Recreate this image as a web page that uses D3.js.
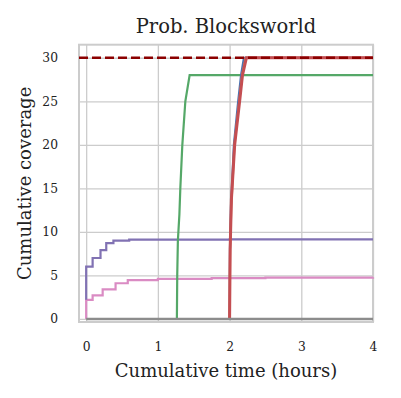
<!DOCTYPE html>
<meta charset="utf-8">
<style>
    body { margin: 0; background: #fff; }
    text { font-family: "DejaVu Serif", serif; fill: #222; }
    .grid line { stroke: #cccccc; stroke-width: 1.3px; }
    .grid path { display: none; }
    .grid .tick text { font-size: 12.3px; font-family: "DejaVu Serif", serif; }
</style>
<body>
<script src="https://cdn.jsdelivr.net/npm/d3@7"></script>
<script>

// values (hours, cumulative coverage)
var totalProblems = 30;

var grayX = [0, 4];
var grayY = [0, 0];

var pinkX = [0, 0, 0.09, 0.23, 0.41, 0.58, 1.0, 1.75, 2.5, 4];
var pinkY = [0, 2.2, 2.7, 3.4, 4.1, 4.45, 4.6, 4.7, 4.75, 4.8];

var purpleX = [0, 0, 0.09, 0.2, 0.28, 0.38, 0.6, 2.0, 4];
var purpleY = [2.2, 6.0, 7.0, 7.9, 8.7, 9.0, 9.1, 9.15, 9.15];

var greenX = [1.265, 1.27, 1.279, 1.3, 1.313, 1.341, 1.383, 1.443, 4];
var greenY = [0, 5, 9, 12, 15, 20, 25, 28, 28];

var blueX = [2.0, 2.005, 2.02, 2.06, 2.12, 2.16, 2.2, 4];
var blueY = [0, 8, 13, 20, 25, 28, 30, 30];

var orangeX = [2.0, 2.007, 2.024, 2.068, 2.135, 2.175, 2.225, 4];
var orangeY = [0, 8, 13, 20, 25, 28, 30, 30];

var redX = [2.0, 2.008, 2.025, 2.071, 2.14, 2.18, 2.235, 4];
var redY = [0, 8, 13.7, 20, 25, 28, 30, 30];

var xTicks = [0, 1, 2, 3, 4];
var yTicks = [0, 5, 10, 15, 20, 25, 30];

var W = 401, H = 398;
var plotL = 79, plotR = 373, plotT = 44.7, plotB = 322;

var svg = d3.select("body").append("svg")
    .attr("width", W)
    .attr("height", H);

var x = d3.scaleLinear().domain([-0.1, 4]).range([plotL, plotR]);
var y = d3.scaleLinear().domain([-0.35, 31.5]).range([plotB, plotT]);

// grid + tick labels
svg.append("g")
    .attr("class", "grid")
    .attr("transform", "translate(0," + plotB + ")")
    .call(d3.axisBottom(x).tickValues(xTicks).tickFormat(d3.format("d"))
        .tickSizeInner(-(plotB - plotT)).tickSizeOuter(0).tickPadding(20));

svg.append("g")
    .attr("class", "grid")
    .attr("transform", "translate(" + plotL + ",0)")
    .call(d3.axisLeft(y).tickValues(yTicks).tickFormat(d3.format("d"))
        .tickSizeInner(-(plotR - plotL)).tickSizeOuter(0).tickPadding(21));

svg.selectAll(".grid .tick text").attr("fill", "#222");

// frame
svg.append("rect")
    .attr("x", plotL)
    .attr("y", plotT)
    .attr("width", plotR - plotL)
    .attr("height", plotB - plotT)
    .attr("fill", "none")
    .attr("stroke", "#cccccc")
    .attr("stroke-width", 2);

function series(xs, ys, color, width, curve) {
    var pts = xs.map(function(d, i) { return [d, ys[i]]; });
    var line = d3.line()
        .x(function(d) { return x(d[0]); })
        .y(function(d) { return y(d[1]); })
        .curve(curve || d3.curveLinear);
    svg.append("path")
        .datum(pts)
        .attr("d", line)
        .attr("fill", "none")
        .attr("stroke", color)
        .attr("stroke-width", width)
        .attr("stroke-linejoin", "miter");
}

series(pinkX, pinkY, "#DA8BC3", 2.2, d3.curveStepAfter);
series(purpleX, purpleY, "#8172B3", 2.2, d3.curveStepAfter);
series(greenX, greenY, "#55A868", 2.2);
series(blueX, blueY, "#4C72B0", 2.2);
series(orangeX, orangeY, "#DD8452", 2.2);
series(redX, redY, "#C44E52", 3);
series(grayX, grayY, "#8C8C8C", 2.6);

// total problems reference line
svg.append("line")
    .attr("x1", x(-0.1))
    .attr("x2", x(4))
    .attr("y1", y(totalProblems))
    .attr("y2", y(totalProblems))
    .attr("stroke", "#8B0000")
    .attr("stroke-width", 2.4)
    .attr("stroke-dasharray", "9,4");

// texts
svg.append("text")
    .attr("x", (plotL + plotR) / 2)
    .attr("y", 32.5)
    .attr("text-anchor", "middle")
    .style("font-size", "19.5px")
    .text("Prob.  Blocksworld");

svg.append("text")
    .attr("x", (plotL + plotR) / 2)
    .attr("y", 376.5)
    .attr("text-anchor", "middle")
    .style("font-size", "18px")
    .text("Cumulative time (hours)");

svg.append("text")
    .attr("transform", "translate(30.5," + ((plotT + plotB) / 2) + ")rotate(-90)")
    .attr("text-anchor", "middle")
    .style("font-size", "18px")
    .text("Cumulative coverage");

</script>
</body>
